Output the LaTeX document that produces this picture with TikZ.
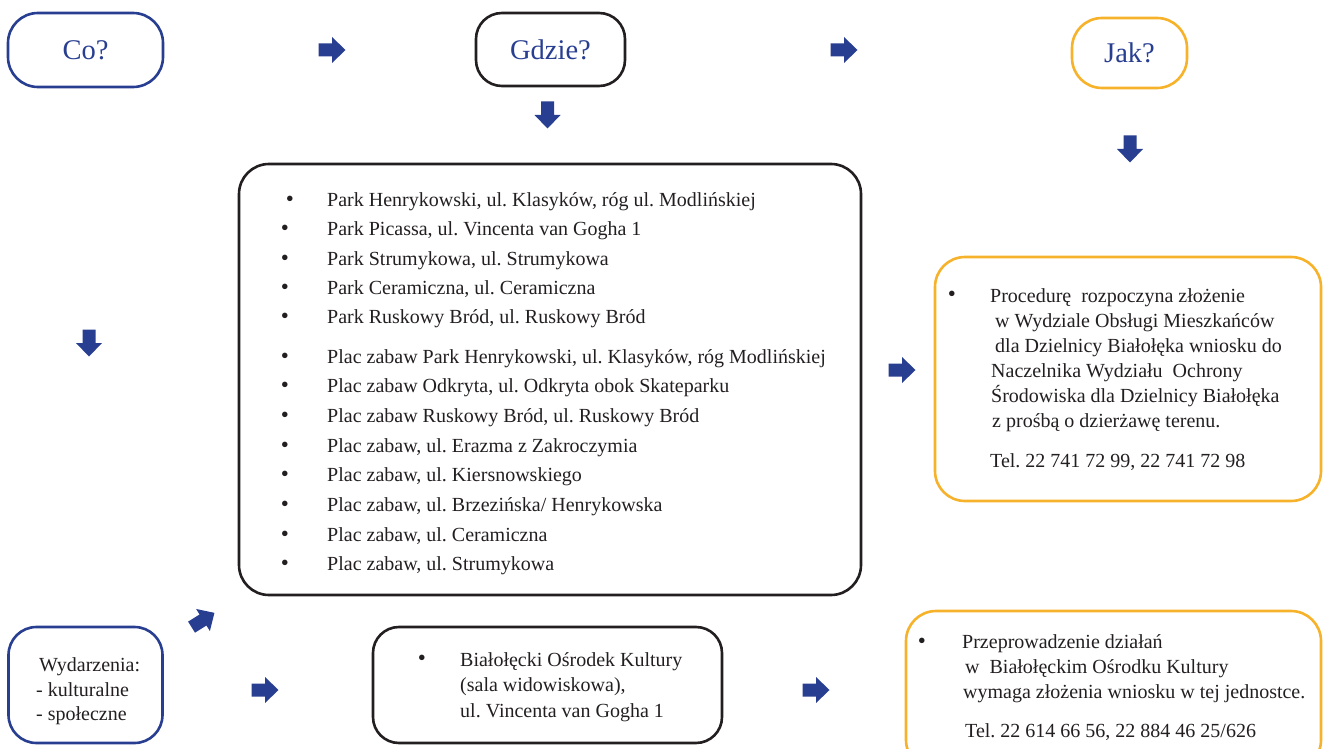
\documentclass[tikz,border=0pt]{standalone}
\usepackage{fontspec}
\setmainfont{Liberation Serif}
\frenchspacing
\definecolor{navy}{RGB}{40,62,145}
\definecolor{amber}{RGB}{246,178,42}
\definecolor{ink}{RGB}{35,31,32}
\tikzset{
  blockarrow/.pic={
    \fill[navy] (-13.5,-6.5) -- (0,-6.5) -- (0,-13) -- (13.5,0) -- (0,13)
                -- (0,6.5) -- (-13.5,6.5) -- cycle;
  }
}
\begin{document}
\begin{tikzpicture}[x=1pt,y=-1pt,
  frame/.style={draw, line width=2.6pt, rounded corners=#1, inner sep=0pt, text=ink},
  head/.style={font=\fontsize{28.5}{34}\selectfont, text=navy},
  txt/.style={anchor=base west, inner sep=0pt, font=\fontsize{20}{24}\selectfont, text=ink},
  dot/.style={anchor=base, inner sep=0pt, font=\fontsize{23}{26}\selectfont, text=ink}]
\useasboundingbox (0,0) rectangle (1323,749);

% header row
\node[frame=30pt, draw=navy, minimum width=155pt, minimum height=74pt, head] (co) at (85.5,50) {Co?};
\node[frame=26pt, draw=ink, minimum width=149pt, minimum height=73pt, head] (gdzie) at (550.5,49.5) {Gdzie?};
\node[frame=30pt, draw=amber, minimum width=115pt, minimum height=70pt, head] (jak) at (1129.5,53) {Jak?};

% main boxes
\node[frame=30pt, draw=ink, minimum width=622pt, minimum height=431pt] (places) at (550,379.5) {};
\node[frame=30pt, draw=amber, minimum width=386pt, minimum height=244pt] (lease) at (1128,379) {};
\node[frame=28pt, draw=navy, minimum width=154pt, minimum height=116pt] (events) at (85.5,685) {};
\node[frame=26pt, draw=ink, minimum width=349pt, minimum height=116pt] (bok) at (547.5,685) {};
\node[frame=30pt, draw=amber, minimum width=415pt, minimum height=159pt] (bokreq) at (1113.5,690.5) {};

% arrows
\pic (ar1) at (332,50) {blockarrow};
\pic (ar2) at (844,50) {blockarrow};
\pic[rotate=-90] (ad1) at (547.5,115) {blockarrow};
\pic[rotate=-90] (ad2) at (1130,149) {blockarrow};
\pic[rotate=-90] (ad3) at (89,343) {blockarrow};
\pic (ar3) at (902,370) {blockarrow};
\pic[rotate=32] (ar4) at (203,620) {blockarrow};
\pic (ar5) at (265,690) {blockarrow};
\pic (ar6) at (816,690) {blockarrow};

% list of parks
\node[dot] (pb1) at (290,206.5) {•};
\node[txt] (p1) at (327,206.5) {Park Henrykowski, ul. Klasyków, róg ul. Modlińskiej};
\foreach \t [count=\i from 2] in {
  {Park Picassa, ul. Vincenta van Gogha 1},
  {Park Strumykowa, ul. Strumykowa},
  {Park Ceramiczna, ul. Ceramiczna},
  {Park Ruskowy Bród, ul. Ruskowy Bród}}{
  \node[dot] (pb\i) at (285,{206.5+29.3*(\i-1)}) {•};
  \node[txt] (p\i) at (327,{206.5+29.3*(\i-1)}) {\t};
}
% list of playgrounds
\foreach \t [count=\i from 0] in {
  {Plac zabaw Park Henrykowski, ul. Klasyków, róg Modlińskiej},
  {Plac zabaw Odkryta, ul. Odkryta obok Skateparku},
  {Plac zabaw Ruskowy Bród, ul. Ruskowy Bród},
  {Plac zabaw, ul. Erazma z Zakroczymia},
  {Plac zabaw, ul. Kiersnowskiego},
  {Plac zabaw, ul. Brzezińska/ Henrykowska},
  {Plac zabaw, ul. Ceramiczna},
  {Plac zabaw, ul. Strumykowa}}{
  \node[dot] (qb\i) at (285,{363+29.7*\i}) {•};
  \node[txt] (q\i) at (327,{363+29.7*\i}) {\t};
}

% lease procedure
\node[dot] (lb) at (952,301) {•};
\node[txt] (l1) at (990,302) {Procedurę\ \ rozpoczyna złożenie};
\node[txt] (l2) at (995,327) {w Wydziale Obsługi Mieszkańców};
\node[txt] (l3) at (995,352) {dla Dzielnicy Białołęka wniosku do};
\node[txt] (l4) at (991,377) {Naczelnika Wydziału\ \ Ochrony};
\node[txt] (l5) at (991,402) {Środowiska dla Dzielnicy Białołęka};
\node[txt] (l6) at (992,427) {z prośbą o dzierżawę terenu.};
\node[txt] (l7) at (990,467) {Tel. 22 741 72 99, 22 741 72 98};

% events
\node[txt] (e1) at (39,671) {Wydarzenia:};
\node[txt] (e2) at (36,696) {- kulturalne};
\node[txt] (e3) at (36,720) {- społeczne};

% cultural centre
\node[dot] (bb) at (422,665) {•};
\node[txt] (b1) at (460,666) {Białołęcki Ośrodek Kultury};
\node[txt] (b2) at (460,691) {(sala widowiskowa),};
\node[txt] (b3) at (460,717) {ul. Vincenta van Gogha 1};

% cultural centre request
\node[dot] (rb) at (922,648) {•};
\node[txt] (r1) at (962,648) {Przeprowadzenie działań};
\node[txt] (r2) at (965,673) {w\ \ Białołęckim Ośrodku Kultury};
\node[txt] (r3) at (963,698) {wymaga złożenia wniosku w tej jednostce.};
\node[txt] (r4) at (965,737) {Tel. 22 614 66 56, 22 884 46 25/626};
\end{tikzpicture}
\end{document}
